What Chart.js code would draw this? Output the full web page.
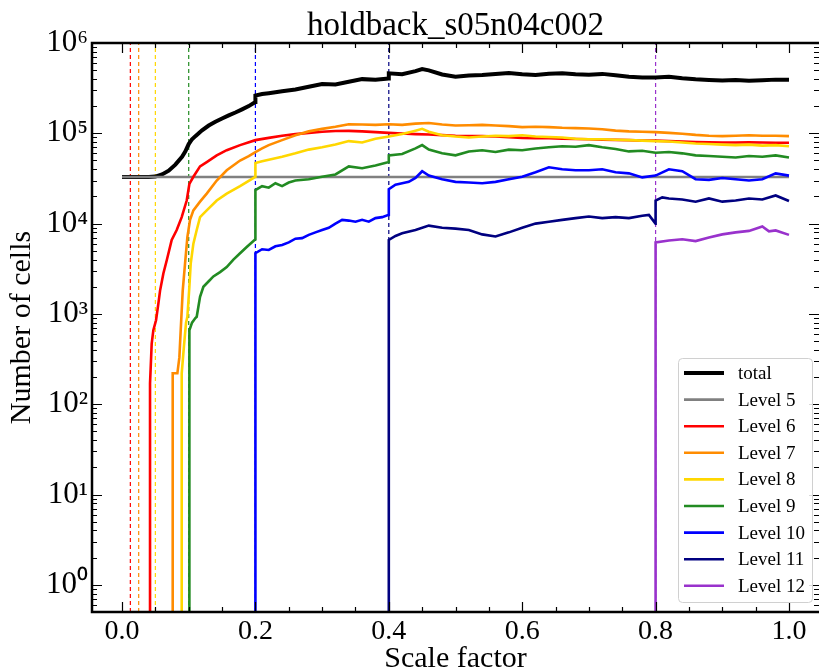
<!DOCTYPE html>
<html>
<head>
<meta charset="utf-8">
<title>holdback_s05n04c002</title>
<script src="https://cdn.jsdelivr.net/npm/chart.js@4.4.1/dist/chart.umd.min.js"></script>
<style>
  html, body { margin: 0; padding: 0; background: #fff; }
  #wrap { width: 819px; height: 671px; }
</style>
</head>
<body>
<div id="wrap"><canvas id="cellChart" width="819" height="671"></canvas></div>
<script>
// scale factor, number of cells
const total = [[0, 32768], [0.02, 32768], [0.04, 32800], [0.05, 33200], [0.06, 35000], [0.07, 38500], [0.08, 45000], [0.09, 55000], [0.095, 63000], [0.1, 76000],
  [0.105, 86000], [0.11, 93000], [0.12, 108000], [0.13, 122000], [0.14, 134000], [0.15, 146000], [0.16, 158000], [0.17, 170000], [0.18, 184000], [0.19, 200000],
  [0.1999, 222000], [0.2, 262000], [0.21, 272000], [0.22, 278000], [0.23, 285000], [0.24, 292000], [0.26, 305000], [0.28, 328000], [0.3, 352000], [0.32, 348000],
  [0.34, 372000], [0.36, 398000], [0.38, 392000], [0.3999, 405000], [0.4, 462000], [0.42, 452000], [0.44, 488000], [0.45, 515000], [0.46, 498000], [0.48, 448000],
  [0.5, 422000], [0.52, 436000], [0.54, 442000], [0.56, 455000], [0.58, 466000], [0.6, 452000], [0.62, 442000], [0.64, 456000], [0.66, 462000], [0.68, 451000],
  [0.7, 446000], [0.72, 455000], [0.74, 440000], [0.76, 422000], [0.78, 414000], [0.8, 416000], [0.82, 424000], [0.84, 408000], [0.86, 396000], [0.88, 390000],
  [0.9, 384000], [0.92, 389000], [0.94, 381000], [0.96, 386000], [0.98, 393000], [1.0, 392000]];

const level5 = [[0, 32768], [1.0, 32768]];

const level6 = [[0.042, 0.1], [0.042, 170], [0.0445, 470], [0.047, 660], [0.051, 850], [0.0545, 1300], [0.057, 1800], [0.062, 2800], [0.067, 3900], [0.0745, 6600],
  [0.082, 8500], [0.0895, 11800], [0.097, 18000], [0.101, 27500], [0.107, 33000], [0.117, 43000], [0.127, 48000], [0.142, 57000], [0.157, 65000], [0.177, 74000],
  [0.2, 84000], [0.22, 89000], [0.24, 94000], [0.26, 98000], [0.28, 101000], [0.3, 104000], [0.32, 106000], [0.34, 106500], [0.36, 105000], [0.38, 103000],
  [0.4, 101000], [0.42, 99500], [0.44, 98000], [0.46, 97000], [0.48, 95500], [0.5, 94000], [0.52, 93500], [0.54, 93000], [0.56, 92000], [0.58, 90500],
  [0.6, 89000], [0.62, 88500], [0.64, 88000], [0.66, 87000], [0.68, 86500], [0.7, 86000], [0.72, 85000], [0.74, 84500], [0.76, 84000], [0.78, 83000],
  [0.8, 83000], [0.82, 82000], [0.84, 81000], [0.86, 80000], [0.88, 79500], [0.9, 79000], [0.92, 79000], [0.94, 79500], [0.96, 79000], [0.98, 78500], [1.0, 78500]];

const level7 = [[0.076, 0.1], [0.076, 220], [0.083, 220], [0.086, 330], [0.088, 660], [0.091, 1800], [0.0945, 3600], [0.098, 7100], [0.102, 11000], [0.107, 14000],
  [0.117, 17500], [0.127, 21500], [0.142, 30000], [0.157, 39000], [0.177, 50000], [0.19, 56000], [0.2, 62000], [0.21, 68000], [0.22, 74000], [0.24, 84000],
  [0.26, 95000], [0.28, 105000], [0.3, 112000], [0.32, 118000], [0.34, 126000], [0.36, 125000], [0.38, 124000], [0.4, 126000], [0.42, 124000], [0.44, 128000],
  [0.46, 130000], [0.48, 125000], [0.5, 122000], [0.52, 123000], [0.54, 124000], [0.56, 122000], [0.58, 120000], [0.6, 117000], [0.62, 118000], [0.64, 117000],
  [0.66, 115000], [0.68, 114000], [0.7, 113000], [0.72, 111000], [0.74, 107000], [0.76, 105000], [0.78, 104000], [0.8, 103000], [0.82, 101000], [0.84, 99000],
  [0.86, 96000], [0.88, 94000], [0.9, 93000], [0.92, 94000], [0.94, 95000], [0.96, 94000], [0.98, 94000], [1.0, 93000]];

const level8 = [[0.0895, 0.1], [0.0895, 220], [0.093, 450], [0.096, 800], [0.098, 930], [0.101, 2000], [0.103, 3600], [0.107, 6000], [0.112, 8500], [0.117, 11800],
  [0.127, 14000], [0.142, 18000], [0.157, 21500], [0.177, 26000], [0.1999, 33000], [0.2, 47000], [0.21, 49000], [0.22, 51000], [0.24, 55000], [0.26, 60000],
  [0.28, 66000], [0.3, 70000], [0.32, 75000], [0.34, 82000], [0.36, 79000], [0.38, 87000], [0.4, 92000], [0.42, 98000], [0.44, 107000], [0.45, 112000],
  [0.46, 104000], [0.48, 95000], [0.5, 92000], [0.52, 90000], [0.54, 92000], [0.56, 94000], [0.58, 93000], [0.6, 95000], [0.62, 92000], [0.64, 91000],
  [0.66, 90000], [0.68, 87000], [0.7, 86000], [0.72, 86000], [0.74, 85000], [0.76, 84000], [0.78, 83000], [0.8, 82000], [0.82, 81000], [0.84, 79000],
  [0.86, 77000], [0.88, 76000], [0.9, 75000], [0.92, 74000], [0.94, 75000], [0.96, 73000], [0.98, 74000], [1.0, 72000]];

const level9 = [[0.101, 0.1], [0.101, 660], [0.105, 800], [0.11, 900], [0.112, 930], [0.117, 1550], [0.122, 2000], [0.13, 2300], [0.137, 2600], [0.147, 2900],
  [0.157, 3300], [0.167, 4000], [0.177, 4700], [0.187, 5500], [0.1999, 6700], [0.2, 23500], [0.21, 26000], [0.22, 25000], [0.23, 28000], [0.24, 26000],
  [0.25, 28500], [0.26, 30000], [0.28, 31000], [0.3, 33000], [0.32, 35000], [0.34, 43000], [0.36, 41000], [0.38, 44000], [0.3999, 48000], [0.4, 57000],
  [0.42, 59000], [0.44, 68000], [0.45, 74000], [0.46, 66000], [0.48, 60000], [0.5, 57000], [0.52, 63000], [0.54, 65000], [0.56, 62000], [0.58, 66000],
  [0.6, 65000], [0.62, 68000], [0.64, 70000], [0.66, 72000], [0.68, 71000], [0.7, 74000], [0.72, 70000], [0.74, 67000], [0.76, 63000], [0.78, 64000],
  [0.8, 61000], [0.82, 62000], [0.84, 60000], [0.86, 57000], [0.88, 56000], [0.9, 55000], [0.92, 54000], [0.94, 56000], [0.96, 55000], [0.98, 57000], [1.0, 54000]];

const level10 = [[0.2, 0.1], [0.2, 4700], [0.21, 5200], [0.22, 5100], [0.23, 5600], [0.24, 5800], [0.25, 6200], [0.26, 6800], [0.27, 6900], [0.28, 7500],
  [0.29, 8000], [0.3, 8500], [0.31, 9000], [0.32, 10000], [0.33, 11000], [0.34, 10800], [0.35, 10500], [0.36, 11000], [0.37, 10500], [0.38, 11500],
  [0.39, 11800], [0.3999, 12500], [0.4, 24000], [0.41, 27000], [0.42, 28000], [0.43, 29000], [0.44, 32000], [0.45, 38000], [0.46, 34000], [0.48, 31000],
  [0.5, 29000], [0.52, 28500], [0.54, 28000], [0.56, 29000], [0.58, 31000], [0.6, 33000], [0.62, 37000], [0.64, 42000], [0.66, 40000], [0.68, 39000],
  [0.7, 39000], [0.72, 40000], [0.74, 37000], [0.76, 36000], [0.78, 32500], [0.8, 34000], [0.82, 40000], [0.84, 38000], [0.86, 31000], [0.88, 30500],
  [0.9, 32000], [0.92, 31000], [0.94, 30000], [0.96, 31000], [0.98, 36000], [1.0, 34000]];

const level11 = [[0.4, 0.1], [0.4, 6600], [0.41, 7300], [0.42, 7800], [0.44, 8500], [0.46, 9500], [0.48, 9000], [0.5, 8800], [0.52, 8500], [0.54, 7600],
  [0.56, 7200], [0.58, 8000], [0.6, 9000], [0.62, 10000], [0.64, 10500], [0.66, 11000], [0.68, 11500], [0.7, 12000], [0.72, 11500], [0.74, 11800],
  [0.76, 11500], [0.78, 12200], [0.79, 12500], [0.7999, 10000], [0.8, 18000], [0.81, 19500], [0.82, 19000], [0.84, 18500], [0.86, 17500], [0.88, 19000],
  [0.9, 17500], [0.92, 18000], [0.94, 19000], [0.96, 18500], [0.98, 20500], [1.0, 17800]];

const level12 = [[0.8, 0.1], [0.8, 6200], [0.82, 6500], [0.84, 6700], [0.86, 6400], [0.88, 7000], [0.9, 7600], [0.92, 8000], [0.94, 8300], [0.96, 9300],
  [0.97, 8200], [0.98, 8400], [1.0, 7500]];

const seriesNames = ['total', 'Level 5', 'Level 6', 'Level 7', 'Level 8', 'Level 9', 'Level 10', 'Level 11', 'Level 12'];
const seriesData = [total, level5, level6, level7, level8, level9, level10, level11, level12];
const seriesColors = ['#000000', '#808080', '#ff0000', '#ff8c00', '#ffd700', '#228b22', '#0000ff', '#000080', '#9932cc'];

// scale factors where a new level switches on (dashed markers)
const refineA = [0.0125, 0.025, 0.05, 0.1, 0.2, 0.4, 0.8];
const refineColors = ['#ff0000', '#ff8c00', '#ffd700', '#228b22', '#0000ff', '#000080', '#9932cc'];

const xTicks = [0, 0.2, 0.4, 0.6, 0.8, 1.0];
const yTicks = [1, 10, 100, 1000, 10000, 100000, 1000000];
const sup = ['⁰', '¹', '²', '³', '⁴', '⁵', '⁶'];

const serif = "'Liberation Serif', 'Times New Roman', serif";
const Y_MIN = 0.5, Y_MAX = 1e6;

const datasets = [];
refineA.forEach(function(a, i) {
    datasets.push({
        label: 'refine ' + a,
        data: [{ x: a, y: Y_MIN }, { x: a, y: Y_MAX }],
        borderColor: refineColors[i],
        borderWidth: 1.2,
        borderDash: [4, 3],
        order: 50
    });
});
seriesData.forEach(function(pts, i) {
    datasets.push({
        label: seriesNames[i],
        data: pts.map(p => ({ x: p[0], y: p[1] })),
        borderColor: seriesColors[i],
        borderWidth: i === 0 ? 4 : 2.6,
        order: 20 - i, // later levels on top
        clip: 0
    });
});

// matplotlib-ish frame: spines plus inward ticks (right spine falls just off the canvas)
const frameTicks = {
    id: 'frameTicks',
    afterDatasetsDraw(chart) {
        const { ctx, chartArea: ca, scales } = chart;
        const xs = scales.x, ys = scales.y;
        ctx.save();
        ctx.strokeStyle = '#000';
        ctx.lineWidth = 1.2;
        ctx.beginPath();
        for (let v = 0; v <= 1.0001; v += 0.05) {
            const px = Math.round(xs.getPixelForValue(v)) + 0.5;
            const major = Math.abs(v * 5 - Math.round(v * 5)) < 1e-6;
            const len = major ? 10 : 5;
            ctx.moveTo(px, ca.bottom); ctx.lineTo(px, ca.bottom - len);
            ctx.moveTo(px, ca.top); ctx.lineTo(px, ca.top + len);
        }
        for (let k = -1; k <= 6; k++) {
            for (let m = 1; m <= 9; m++) {
                const v = m * Math.pow(10, k);
                if (v < Y_MIN || v > Y_MAX) continue;
                const py = Math.round(ys.getPixelForValue(v)) + 0.5;
                const len = m === 1 ? 10 : 5;
                ctx.moveTo(ca.left, py); ctx.lineTo(ca.left + len, py);
                ctx.moveTo(ca.right, py); ctx.lineTo(ca.right - len, py);
            }
        }
        ctx.stroke();
        ctx.lineWidth = 2.5;
        ctx.beginPath();
        ctx.moveTo(ca.right + 5, ca.top);
        ctx.lineTo(ca.left, ca.top);
        ctx.lineTo(ca.left, ca.bottom);
        ctx.lineTo(ca.right + 5, ca.bottom);
        ctx.stroke();
        ctx.restore();
    }
};

// legend box in the lower right of the plot
const boxLegend = {
    id: 'boxLegend',
    afterDraw(chart) {
        const { ctx, chartArea: ca } = chart;
        const w = 134, h = 244;
        const x0 = ca.right - 7 - w, y0 = ca.bottom - 10 - h;
        ctx.save();
        ctx.fillStyle = 'rgba(255,255,255,0.85)';
        ctx.strokeStyle = '#d0d0d0';
        ctx.lineWidth = 1;
        ctx.beginPath();
        ctx.roundRect(x0 + 0.5, y0 + 0.5, w, h, 4);
        ctx.fill();
        ctx.stroke();
        ctx.font = '19px ' + serif;
        ctx.textBaseline = 'middle';
        ctx.fillStyle = '#000';
        seriesNames.forEach(function(name, i) {
            const ry = y0 + 15 + i * 26.6;
            ctx.strokeStyle = seriesColors[i];
            ctx.lineWidth = i === 0 ? 4 : 2.6;
            ctx.beginPath();
            ctx.moveTo(x0 + 6, ry);
            ctx.lineTo(x0 + 46, ry);
            ctx.stroke();
            ctx.fillText(name, x0 + 60, ry + 1);
        });
        ctx.restore();
    }
};

const ctx = document.getElementById('cellChart').getContext('2d');
const cellChart = new Chart(ctx, {
    type: 'line',
    data: { datasets: datasets },
    options: {
        responsive: false,
        animation: false,
        events: [],
        layout: { padding: 0 },
        elements: {
            point: { radius: 0 },
            line: { tension: 0, fill: false }
        },
        plugins: {
            legend: { display: false },
            tooltip: { enabled: false },
            title: {
                display: true,
                fullSize: false,
                text: 'holdback_s05n04c002',
                color: '#000',
                font: { family: serif, size: 33, weight: 'normal', lineHeight: 1 },
                padding: { top: 10, bottom: 0 }
            }
        },
        scales: {
            x: {
                type: 'linear',
                min: -0.045,
                max: 1.045,
                afterBuildTicks: axis => { axis.ticks = xTicks.map(v => ({ value: v })); },
                afterFit: axis => { axis.height = 59; },
                grid: { display: false, drawTicks: false },
                border: { display: false },
                ticks: {
                    color: '#000',
                    padding: 3,
                    maxRotation: 0,
                    font: { family: serif, size: 28 },
                    callback: v => Number(v).toFixed(1)
                },
                title: {
                    display: true,
                    text: 'Scale factor',
                    color: '#000',
                    font: { family: serif, size: 30, lineHeight: 0.8 },
                    padding: { top: 0, bottom: 0 }
                }
            },
            y: {
                type: 'logarithmic',
                min: Y_MIN,
                max: Y_MAX,
                afterBuildTicks: axis => { axis.ticks = yTicks.map(v => ({ value: v })); },
                afterFit: axis => { axis.width = 92; },
                grid: { display: false, drawTicks: false },
                border: { display: false },
                ticks: {
                    color: '#000',
                    padding: 4,
                    font: { family: serif, size: 31 },
                    callback: v => '10' + sup[Math.round(Math.log10(v))]
                },
                title: {
                    display: true,
                    text: 'Number of cells',
                    color: '#000',
                    font: { family: serif, size: 30 },
                    padding: { top: 4, bottom: 4 }
                }
            }
        }
    },
    plugins: [frameTicks, boxLegend]
});
</script>
</body>
</html>
